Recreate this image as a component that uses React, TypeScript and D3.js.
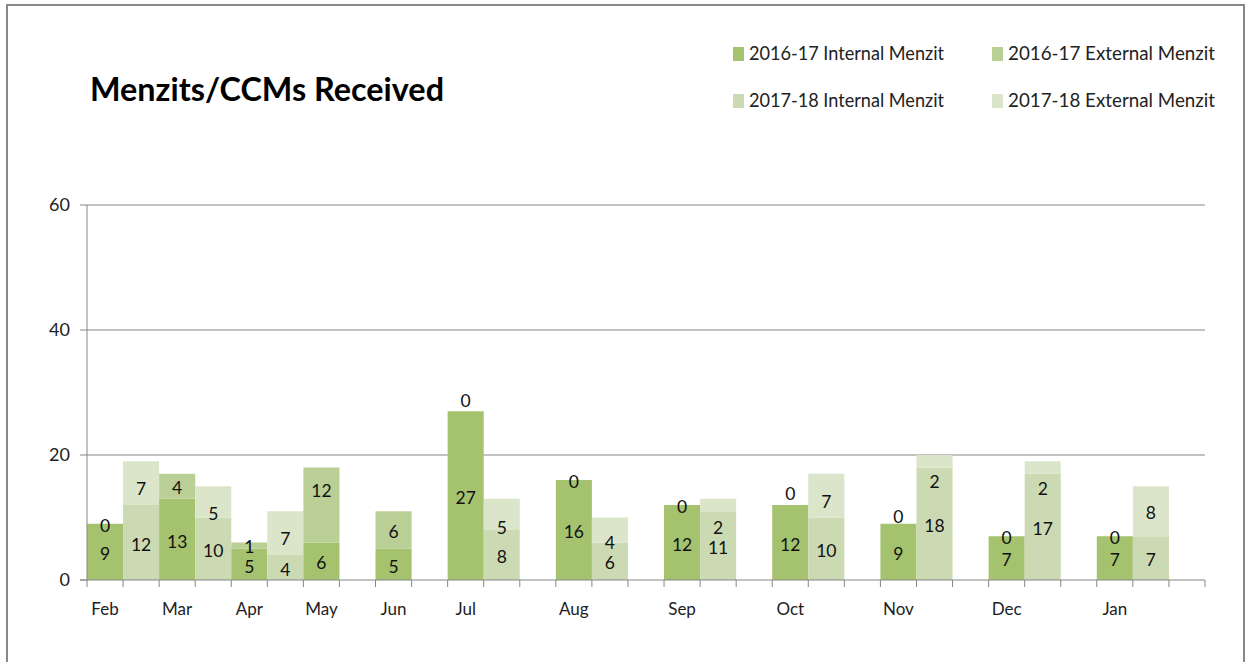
import React from "react";
import * as d3 from "d3";

const axisSlots: string[] = [
  "Feb", "", "Mar", "", "Apr", "", "May", "", "Jun", "", "Jul", "", "",
  "Aug", "", "", "Sep", "", "", "Oct", "", "", "Nov", "", "", "Dec", "", "", "Jan", "", "",
];
const months = ["Feb", "Mar", "Apr", "May", "Jun", "Jul", "Aug", "Sep", "Oct", "Nov", "Dec", "Jan"];
const int1617: (number | null)[] = [9, 13, 5, 6, 5, 27, 16, 12, 12, 9, 7, 7];
const ext1617: (number | null)[] = [0, 4, 1, 12, 6, 0, 0, 0, 0, 0, 0, 0];
const int1718: (number | null)[] = [12, 10, 4, null, null, 8, 6, 11, 10, 18, 17, 7];
const ext1718: (number | null)[] = [7, 5, 7, null, null, 5, 4, 2, 7, 2, 2, 8];
const yTicks = [0, 20, 40, 60];

// label nudges (px) replicating the original's manual label placement
const nudgeExt1617 = [0, 0, -1, -16, 0, -12, 0, 0, -13, -9, 0, 0];
const nudgeExt1718 = [4, 10, 4, 0, 0, 11, 11, 21, 4, 19, 19, 0];

const seriesNames = ["2016-17 Internal Menzit", "2016-17 External Menzit", "2017-18 Internal Menzit", "2017-18 External Menzit"];
const colors = ["#A5C26F", "#BACF96", "#CBDAB2", "#DBE5CA"];

const FONT = "Lato, 'Open Sans', sans-serif";

export default function App() {
  const W = 1250, H = 662;
  const x = d3.scaleBand<number>().domain(d3.range(axisSlots.length)).range([87, 1205]).padding(0);
  const y = d3.scaleLinear().domain([0, 60]).range([580, 205]);
  const bw = x.bandwidth();

  const segs: { x: number; y0: number; y1: number; v: number; c: string; nudge: number }[] = [];
  months.forEach((m, i) => {
    const s = axisSlots.indexOf(m);
    const stacks: [number | null, number | null, number, string, string, number][] = [
      [int1617[i], ext1617[i], s, colors[0], colors[1], nudgeExt1617[i]],
      [int1718[i], ext1718[i], s + 1, colors[2], colors[3], nudgeExt1718[i]],
    ];
    stacks.forEach(([a, b, slot, ca, cb, nb]) => {
      if (a == null) return;
      const xx = x(slot)!;
      segs.push({ x: xx, y0: 0, y1: a, v: a, c: ca, nudge: 0 });
      if (b != null) segs.push({ x: xx, y0: a, y1: a + b, v: b, c: cb, nudge: nb });
    });
  });

  return (
    <svg width={W} height={H} style={{ position: "absolute", left: 0, top: 0, background: "#fff" }} fontFamily={FONT}>
      <rect x={7} y={5} width={1237} height={700} fill="#fff" stroke="#888" strokeWidth={2} />
      <text x={90} y={101} fontSize={32} fontWeight="bold" fill="#000" textLength={354} lengthAdjust="spacingAndGlyphs">
        Menzits/CCMs Received
      </text>
      {seriesNames.map((n, i) => {
        const col = i % 2, row = Math.floor(i / 2);
        const lx = col === 0 ? 733 : 992;
        const ly = row === 0 ? 54 : 101;
        return (
          <g key={n}>
            <rect x={lx} y={ly - 7} width={11} height={14} fill={colors[i]} />
            <text x={lx + 16} y={ly} dy="0.35em" fontSize={18.5} fill="#222" textLength={col === 0 ? 195 : 207} lengthAdjust="spacingAndGlyphs">{n}</text>
          </g>
        );
      })}
      {yTicks.map((t) => (
        <g key={t}>
          {t > 0 && <line x1={87} x2={1205} y1={y(t)} y2={y(t)} stroke="#868686" strokeWidth={1} />}
          <line x1={80} x2={87} y1={y(t)} y2={y(t)} stroke="#868686" strokeWidth={1} />
          <text x={70} y={y(t)} dy="0.35em" textAnchor="end" fontSize={18} fill="#222">{t}</text>
        </g>
      ))}
      {segs.map((s, i) => (
        <rect key={i} x={s.x} y={y(s.y1)} width={bw} height={y(s.y0) - y(s.y1)} fill={s.c} />
      ))}
      {segs.map((s, i) => (
        <text key={"l" + i} x={s.x + bw / 2} y={(y(s.y0) + y(s.y1)) / 2 + 2 + s.nudge} dy="0.35em" textAnchor="middle" fontSize={17.5} fill="#111">
          {s.v}
        </text>
      ))}
      <line x1={87} x2={87} y1={205} y2={580} stroke="#868686" strokeWidth={1} />
      <line x1={80} x2={1205} y1={580} y2={580} stroke="#868686" strokeWidth={1} />
      {d3.range(axisSlots.length + 1).map((k) => {
        const xx = 87 + k * bw;
        return <line key={k} x1={xx} x2={xx} y1={580} y2={587} stroke="#868686" strokeWidth={1} />;
      })}
      {axisSlots.map((lab, k) =>
        lab ? (
          <text key={"m" + k} x={x(k)! + bw / 2} y={609} dy="0.35em" textAnchor="middle" fontSize={17} fill="#222">
            {lab}
          </text>
        ) : null
      )}
    </svg>
  );
}
